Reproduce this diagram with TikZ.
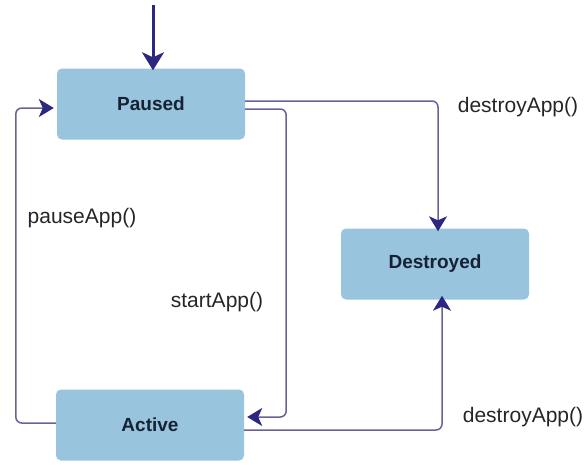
\documentclass[tikz,border=0pt]{standalone}
\usepackage{fontspec}
\setmainfont{Liberation Sans}
\usetikzlibrary{arrows.meta}
\definecolor{boxblue}{RGB}{152,196,222}
\definecolor{linepurple}{RGB}{104,98,152}
\definecolor{tipnavy}{RGB}{44,40,128}
\definecolor{textnavy}{RGB}{22,34,52}
\begin{document}
\begin{tikzpicture}[x=1pt, y=-1pt, >={Stealth[length=15pt, width=18pt, inset=4pt, color=tipnavy]},
	state/.style={rectangle, rounded corners=5pt, fill=boxblue, minimum width=188pt, minimum height=71pt, inner sep=0pt, text=textnavy, font=\fontsize{19}{22}\selectfont\bfseries},
	lbl/.style={inner sep=0pt, text=black!85, font=\fontsize{21}{24}\selectfont},
	link/.style={draw=linepurple, line width=1.5pt, rounded corners=6pt}]
	\useasboundingbox (0,0) rectangle (587,464);
	%States
	\node [state] (paused) at (151,104) {Paused};
	\node [state] (destroyed) at (435,264) {Destroyed};
	\node [state] (active) at (150,425) {Active};
	%Initial arrow
	\coordinate (init) at (153,5);
	\draw [-{Stealth[length=18pt, width=22pt, inset=5pt]}, draw=tipnavy, line width=3pt] (init) -- ([xshift=2pt, yshift=-2pt]paused.north);
	%Paused to destroyed
	\draw [->, link] ([yshift=3pt]paused.east) -| ([xshift=3pt, yshift=-3pt]destroyed.north);
	\node [lbl] (destroytop) at (518,107) {destroyApp()};
	%Paused to active
	\draw [->, link] ([yshift=-5pt]paused.east) -- ++(41,0) |- ([xshift=3pt, yshift=8pt]active.east);
	\node [lbl] (start) at (217,302) {startApp()};
	%Active to paused
	\draw [->, link] ([yshift=2pt]active.west) -- ++(-40,0) |- ([xshift=-3pt, yshift=-4pt]paused.west);
	\node [lbl] (pause) at (82,218) {pauseApp()};
	%Active to destroyed
	\draw [->, link] ([yshift=-5pt]active.east) -| ([xshift=7pt, yshift=4pt]destroyed.south);
	\node [lbl] (destroybottom) at (523,417) {destroyApp()};
\end{tikzpicture}
\end{document}
